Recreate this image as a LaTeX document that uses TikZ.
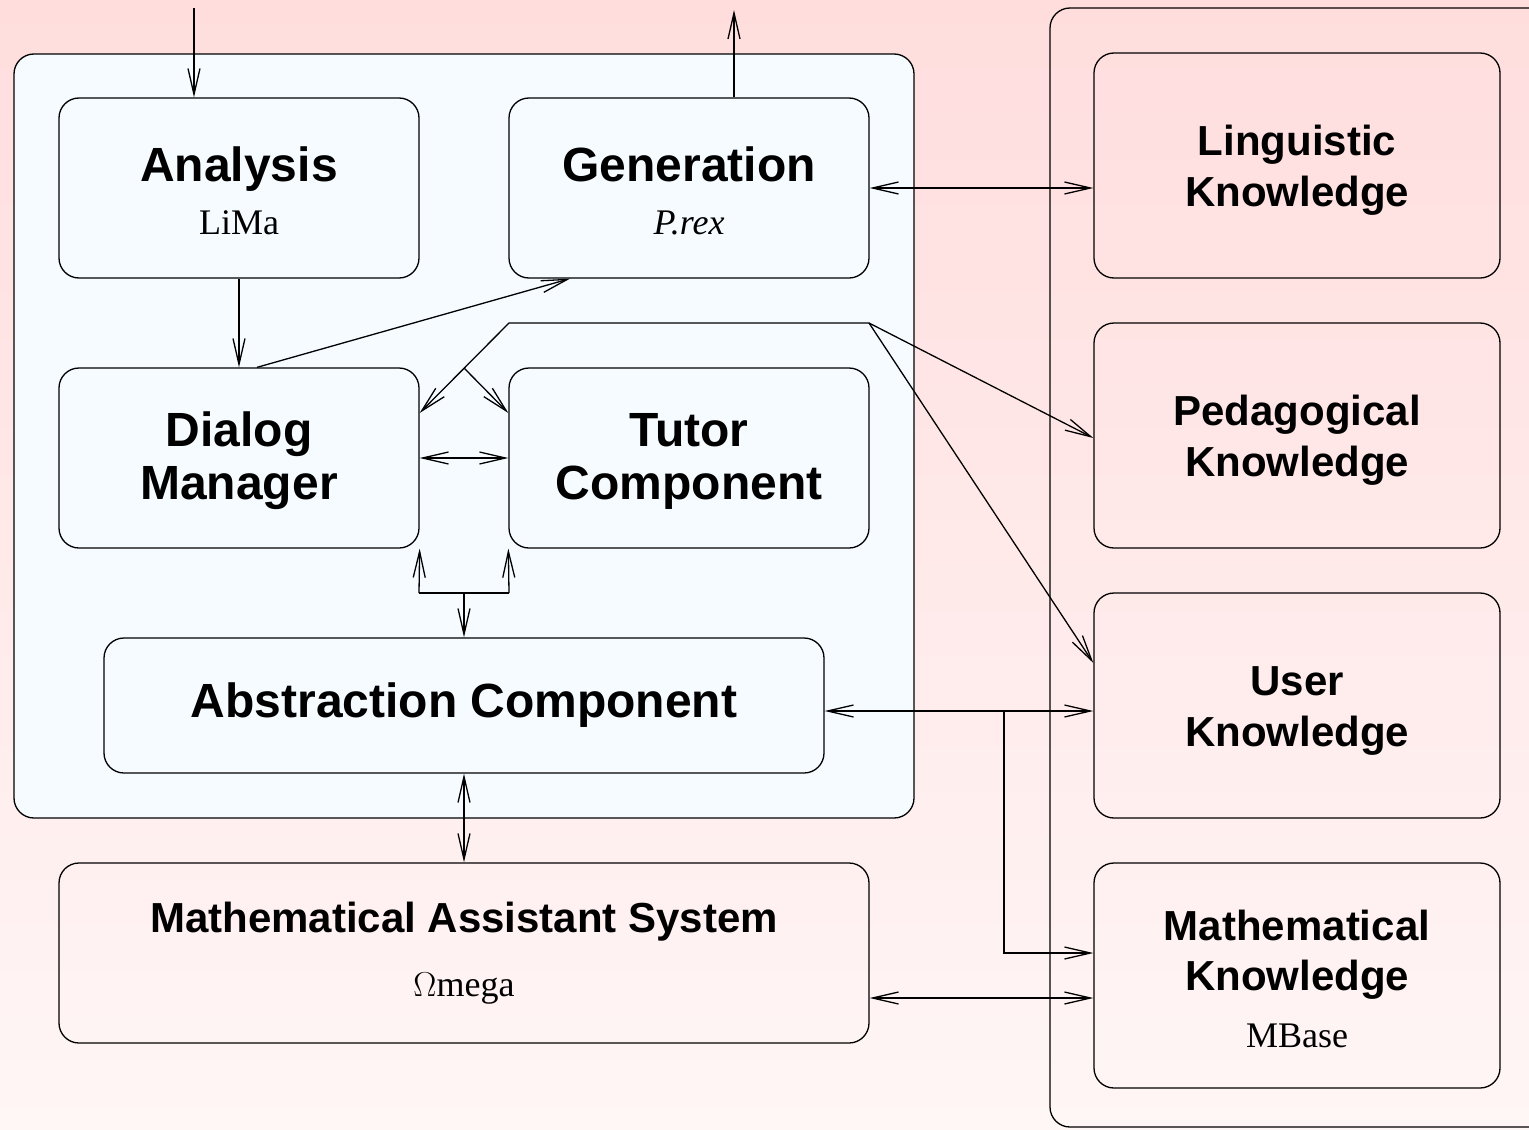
\documentclass[tikz,border=0pt]{standalone}
\usepackage{fontspec}
\setmainfont{Liberation Serif}
\setsansfont{Liberation Sans}
\usetikzlibrary{arrows.meta,calc}
\definecolor{bgtop}{RGB}{255,221,221}
\definecolor{bgbot}{RGB}{255,246,246}
\definecolor{panelfill}{RGB}{245,251,255}
\newcommand{\myhd}{\fontsize{24}{26.5}\selectfont\sffamily\bfseries}
\newcommand{\myhs}{\fontsize{21}{25.5}\selectfont\sffamily\bfseries}
\newcommand{\mysb}{\fontsize{18}{26.5}\selectfont\rmfamily\mdseries}
\begin{document}
\begin{tikzpicture}[x=0.5pt,y=-0.5pt,line width=0.65pt,
  arr/.style={-{Straight Barb[length=13pt,width=6pt]}},
  arrboth/.style={{Straight Barb[length=13pt,width=6pt]}-{Straight Barb[length=13pt,width=6pt]}},
  box/.style={draw,rounded corners=10pt,inner sep=0pt,align=center,font=\myhd},
  lbox/.style={box,fill=panelfill,minimum width=180pt,minimum height=90pt},
  kbox/.style={box,font=\myhs,minimum width=203pt,minimum height=112.5pt}]
\useasboundingbox (0,0) rectangle (1529,1129);
\shade[top color=bgtop,bottom color=bgbot] (0,0) rectangle (1529,1129);
% panels
\draw[rounded corners=10pt,fill=panelfill] (14,54) rectangle (914,818);
\begin{scope}
\clip (0,0) rectangle (1529,1129);
\draw[rounded corners=10pt] (1050,8) rectangle (1570,1127);
\end{scope}
% nodes
\node[lbox] (ana) at (239,188) {\rule{0pt}{20pt}Analysis\\{\mysb LiMa}};
\node[lbox] (gen) at (689,188) {\rule{0pt}{20pt}Generation\\{\mysb\itshape P.rex}};
\node[lbox] (dm) at (239,458) {\rule{0pt}{20pt}Dialog\\Manager};
\node[lbox] (tc) at (689,458) {\rule{0pt}{20pt}Tutor\\Component};
\node[box,fill=panelfill,minimum width=360pt,minimum height=67.5pt] (abs) at (464,705.5) {Abstraction Component};
\node[box,font=\myhs,minimum width=405pt,minimum height=90pt] (mas) at (464,953) {Mathematical Assistant System\\[6.5pt]{\mysb $\Omega$mega}};
\node[kbox] (lk) at (1297,165.5) {\rule{0pt}{20pt}Linguistic\\Knowledge};
\node[kbox] (pk) at (1297,435.5) {\rule{0pt}{20pt}Pedagogical\\Knowledge};
\node[kbox] (uk) at (1297,705.5) {\rule{0pt}{20pt}User\\Knowledge};
\node[kbox] (mk) at (1297,975.5) {\rule{0pt}{19pt}Mathematical\\[-0.5pt]Knowledge\\[3pt]{\mysb MBase}};
% connectors
\coordinate (inA) at (194,8);
\draw[arr] (inA) -- (inA |- ana.north);
\coordinate (outG) at (734,10);
\draw[arr] (outG |- gen.north) -- (outG);
\draw[arr] (ana.south) -- (dm.north);
\draw[arr] ($(dm.north)+(18,0)$) -- ($(gen.south)+(-119,0)$);
\coordinate (j1) at (869,323);
\coordinate (j2) at (509,323);
\coordinate (j3) at (464,368);
\draw[arr] (j1) -- (j2) -- ($(dm.east)+(0,-45)$);
\draw[arr] (j3) -- ($(tc.west)+(0,-45)$);
\draw[arr] (j1) -- ($(pk.west)+(0,2.5)$);
\draw[arr] (j1) -- ($(uk.west)+(0,-42.5)$);
\draw[arrboth] (dm.east) -- (tc.west);
\draw[arrboth] (gen.east) -- (gen.east -| lk.west);
\coordinate (b1) at (419,593);
\coordinate (b2) at (509,593);
\coordinate (bm) at (464,593);
\draw[arr] (b1) -- (dm.south east);
\draw[arr] (b2) -- (tc.south west);
\draw (b1) -- (b2);
\draw[arr] (bm) -- (bm |- abs.north);
\coordinate (ae) at ($(abs.east)+(0,5.5)$);
\draw[arrboth] (ae) -- (ae -| uk.west);
\coordinate (b3) at (1004,711);
\draw[arr] (b3) |- ($(mk.west)+(0,-22.5)$);
\draw[arrboth] (abs.south) -- (mas.north);
\coordinate (me) at ($(mas.east)+(0,45)$);
\draw[arrboth] (me) -- (me -| mk.west);
\end{tikzpicture}
\end{document}
